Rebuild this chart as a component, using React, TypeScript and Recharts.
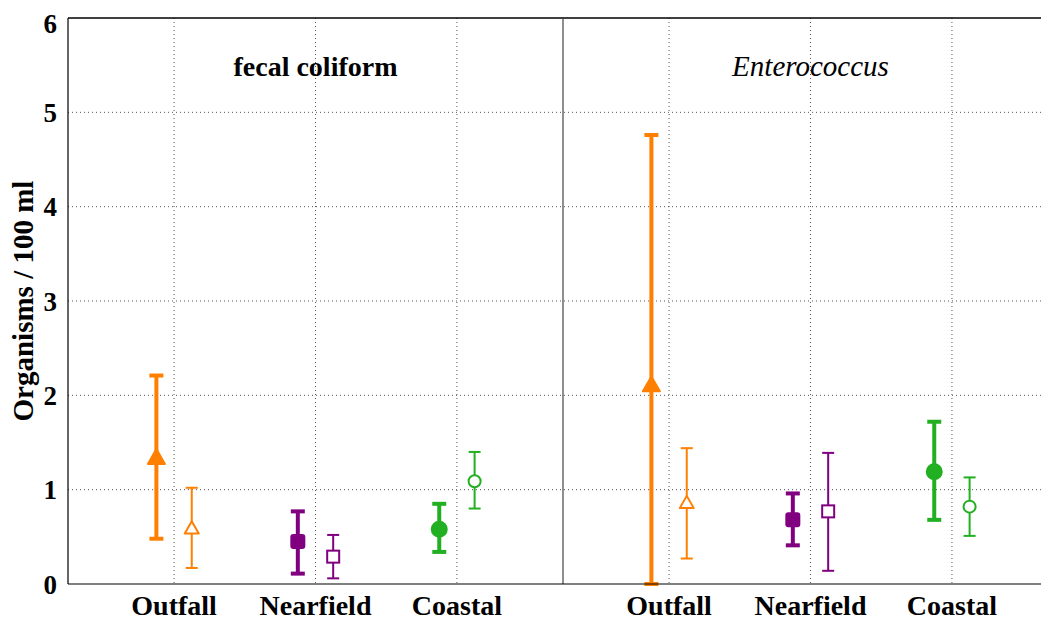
import {
  ComposedChart,
  Scatter,
  ErrorBar,
  XAxis,
  YAxis,
  CartesianGrid,
  ReferenceLine,
  ReferenceDot,
} from "recharts";

const groups = ["Outfall", "Nearfield", "Coastal"];
const panelTitles = ["fecal coliform", "Enterococcus"];
const yTicks = [0, 1, 2, 3, 4, 5, 6];

// thick (filled) series, one value per group
const fcMean = [1.34, 0.45, 0.58];
const fcLow = [0.48, 0.11, 0.34];
const fcHigh = [2.21, 0.77, 0.85];
// thin (open) series
const fcAltMean = [0.59, 0.29, 1.09];
const fcAltLow = [0.17, 0.06, 0.8];
const fcAltHigh = [1.02, 0.52, 1.4];

const entMean = [2.11, 0.68, 1.19];
const entLow = [0.0, 0.41, 0.68];
const entHigh = [4.76, 0.96, 1.72];
const entAltMean = [0.86, 0.77, 0.82];
const entAltLow = [0.27, 0.14, 0.51];
const entAltHigh = [1.44, 1.39, 1.13];

const colors = ["#ff8000", "#800080", "#22b022"];
const shapes = ["triangle", "square", "circle"];

const FONT = "'Liberation Serif', 'Times New Roman', serif";

// tick position of group i in panel p
const tickX = (p: number, i: number) => (p === 0 ? 1 + i : 4.5 + i);
const xTicks = [0, 1].flatMap((p) => groups.map((_, i) => tickX(p, i)));

function points(i: number, alt: boolean) {
  const sets = alt
    ? [
        [fcAltMean, fcAltLow, fcAltHigh],
        [entAltMean, entAltLow, entAltHigh],
      ]
    : [
        [fcMean, fcLow, fcHigh],
        [entMean, entLow, entHigh],
      ];
  return sets.map(([m, lo, hi], p) => ({
    x: tickX(p, i) + (alt ? 0.125 : -0.125),
    y: m[i],
    err: [m[i] - lo[i], hi[i] - m[i]],
  }));
}

function Marker(props: any) {
  const { cx, cy, kind, color, filled } = props;
  if (cx == null || cy == null) return null;
  const fill = filled ? color : "#fff";
  if (kind === "triangle") {
    const s = filled ? 8.5 : 7;
    const pts = `${cx},${cy - s} ${cx - s},${cy + s * 0.75} ${cx + s},${cy + s * 0.75}`;
    return <polygon points={pts} fill={fill} stroke={color} strokeWidth={2} strokeLinejoin="round" />;
  }
  if (kind === "square") {
    const s = filled ? 6.5 : 6;
    return (
      <rect
        x={cx - s}
        y={cy - s}
        width={2 * s}
        height={2 * s}
        rx={filled ? 2 : 0}
        fill={fill}
        stroke={color}
        strokeWidth={2}
      />
    );
  }
  return <circle cx={cx} cy={cy} r={filled ? 7.5 : 6} fill={fill} stroke={color} strokeWidth={2} />;
}

export default function App() {
  return (
    <div style={{ width: 1041, height: 616, overflow: "hidden", fontFamily: FONT }}>
      <ComposedChart width={1050} height={616} margin={{ top: 10, right: 0, left: 0, bottom: 0 }}>
        <CartesianGrid
          horizontalValues={[1, 2, 3, 4, 5]}
          verticalValues={xTicks}
          stroke="#555"
          strokeDasharray="1 3"
        />
        <XAxis
          type="number"
          dataKey="x"
          domain={[0.25, 7.25]}
          ticks={xTicks}
          allowDataOverflow
          height={40}
          tickLine={false}
          tickSize={0}
          tickMargin={11}
          axisLine={{ stroke: "#000", strokeWidth: 1.2 }}
          tickFormatter={(v: number) => groups[xTicks.indexOf(v) % 3]}
          tick={{ fontSize: 28, fontWeight: "bold", fill: "#000", fontFamily: FONT }}
        />
        <YAxis
          type="number"
          dataKey="y"
          domain={[0, 6]}
          ticks={yTicks}
          allowDataOverflow
          width={60}
          tickLine={false}
          tickSize={0}
          tickMargin={11}
          axisLine={{ stroke: "#000", strokeWidth: 1.2 }}
          tick={{ fontSize: 27, fontWeight: "bold", fill: "#000", fontFamily: FONT }}
          label={{
            value: "Organisms / 100 ml",
            angle: -90,
            position: "center",
            dx: -15,
            fontSize: 29,
            fontWeight: "bold",
            fill: "#000",
            fontFamily: FONT,
          }}
        />
        <ReferenceLine y={6} stroke="#000" strokeWidth={1.5} />
        <ReferenceLine x={3.75} stroke="#444" strokeWidth={1.2} />
        {panelTitles.map((t, p) => (
          <ReferenceDot
            key={t}
            x={p === 0 ? 2 : 5.5}
            y={5.49}
            r={1}
            fill="none"
            stroke="none"
            label={{
              value: t,
              position: "center",
              fontSize: p === 0 ? 28 : 29,
              fontWeight: p === 0 ? "bold" : "normal",
              fontStyle: p === 0 ? "normal" : "italic",
              fill: "#000",
              fontFamily: FONT,
            }}
          />
        ))}
        {groups.map((g, i) =>
          [false, true].map((alt) => (
            <Scatter
              key={g + alt}
              name={g + (alt ? " open" : " filled")}
              data={points(i, alt)}
              isAnimationActive={false}
              shape={(props: any) => (
                <Marker {...props} kind={shapes[i]} color={colors[i]} filled={!alt} />
              )}
            >
              <ErrorBar
                dataKey="err"
                direction="y"
                width={alt ? 6 : 7}
                strokeWidth={alt ? 2 : 4}
                stroke={colors[i]}
                isAnimationActive={false}
              />
            </Scatter>
          ))
        )}
      </ComposedChart>
    </div>
  );
}
